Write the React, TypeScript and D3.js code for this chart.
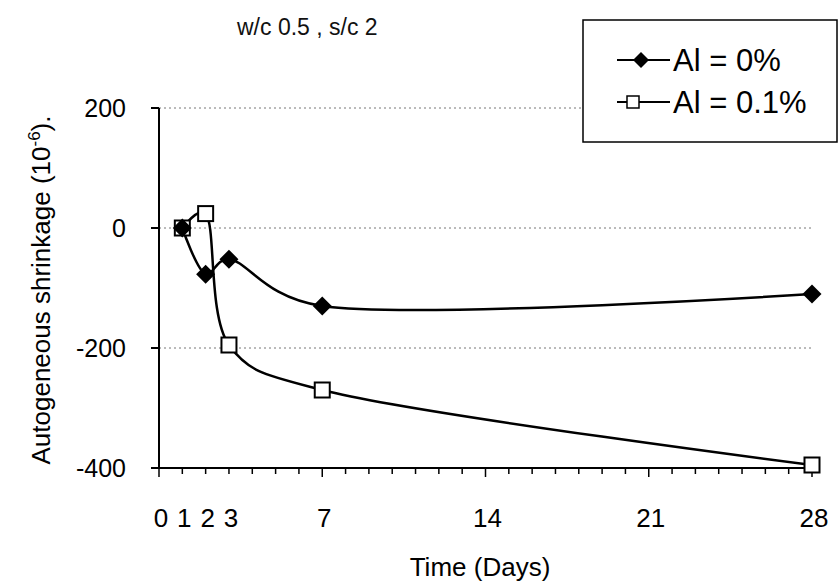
import React from "react";
import * as d3 from "d3";

const days = [1, 2, 3, 7, 28];
const al0 = [0, -77, -52, -130, -110];
const al01 = [0, 24, -195, -270, -395];
const seriesNames = ["Al = 0%", "Al = 0.1%"];
const xTickLabels = [0, 1, 2, 3, 7, 14, 21, 28];
const yTicks = [200, 0, -200, -400];
const gridLines = [200, 0, -200];

const W = 840;
const H = 584;

export default function App() {
  const x = d3.scaleLinear().domain([0, 28]).range([159, 812]);
  const y = d3.scaleLinear().domain([-400, 200]).range([468, 108]);
  const line = d3
    .line<[number, number]>()
    .x((d) => x(d[0]))
    .y((d) => y(d[1]))
    .curve(d3.curveCatmullRom.alpha(0.3));
  const pts0: [number, number][] = days.map((d, i) => [d, al0[i]]);
  const pts1: [number, number][] = days.map((d, i) => [d, al01[i]]);
  const dayTicks = d3.range(0, 29);
  const font = "Liberation Sans, Arial, sans-serif";
  const diamond = (cx: number, cy: number, r: number) =>
    `M${cx},${cy - r}L${cx + r},${cy}L${cx},${cy + r}L${cx - r},${cy}Z`;

  return (
    <svg
      width={W}
      height={H}
      style={{ position: "absolute", left: 0, top: 0, background: "#fff" }}
      fontFamily={font}
    >
      <rect width={W} height={H} fill="#fff" />
      {/* title */}
      <text x={237} y={35} fontSize={23} textAnchor="start" fill="#111">
        w/c 0.5 , s/c 2
      </text>
      {/* grid */}
      {gridLines.map((g) => (
        <line
          key={g}
          x1={x(0)}
          x2={x(28)}
          y1={y(g)}
          y2={y(g)}
          stroke="#777"
          strokeWidth={1}
          strokeDasharray="2,3"
        />
      ))}
      {/* axes */}
      <line x1={x(0)} x2={x(0)} y1={y(200)} y2={y(-400)} stroke="#000" strokeWidth={2} />
      <line x1={x(0)} x2={x(28)} y1={y(-400)} y2={y(-400)} stroke="#000" strokeWidth={2} />
      {yTicks.map((t) => (
        <g key={t}>
          <line x1={x(0) - 8} x2={x(0)} y1={y(t)} y2={y(t)} stroke="#000" strokeWidth={2} />
          <text
            x={126}
            y={y(t) + 9}
            fontSize={25}
            textAnchor="end"
            fill="#000"
          >
            {t}
          </text>
        </g>
      ))}
      {dayTicks.map((t) => (
        <line
          key={t}
          x1={x(t)}
          x2={x(t)}
          y1={y(-400)}
          y2={y(-400) + (t % 7 === 0 ? 9 : 6)}
          stroke="#000"
          strokeWidth={1.5}
        />
      ))}
      {xTickLabels.map((t) => (
        <text key={t} x={x(t) + 2} y={527} fontSize={26} textAnchor="middle" fill="#000">
          {t}
        </text>
      ))}
      <text x={480} y={576} fontSize={26} textAnchor="middle" fill="#000">
        Time (Days)
      </text>
      <text
        transform={`translate(50,290) rotate(-90)`}
        fontSize={26}
        textAnchor="middle"
        fill="#000"
      >
        Autogeneous shrinkage (10
        <tspan dy={-10} fontSize={17}>-6</tspan>
        <tspan dy={10}>).</tspan>
      </text>
      {/* series lines */}
      <path d={line(pts1) || ""} fill="none" stroke="#000" strokeWidth={2.5} />
      <path d={line(pts0) || ""} fill="none" stroke="#000" strokeWidth={2.5} />
      {pts1.map((p, i) => (
        <rect
          key={"s" + i}
          x={x(p[0]) - 7.5}
          y={y(p[1]) - 7.5}
          width={15}
          height={15}
          fill="#fff"
          stroke="#000"
          strokeWidth={2}
        />
      ))}
      {pts0.map((p, i) => (
        <path key={"d" + i} d={diamond(x(p[0]), y(p[1]), 9.5)} fill="#000" />
      ))}
      {/* legend */}
      <rect x={583} y={20} width={254} height={122} fill="#fff" stroke="#000" strokeWidth={1.5} />
      <line x1={617} x2={670} y1={60} y2={60} stroke="#000" strokeWidth={2} />
      <path d={diamond(641, 60, 8)} fill="#000" />
      <text x={673} y={71} fontSize={31} fill="#000">
        {seriesNames[0]}
      </text>
      <line x1={617} x2={670} y1={102} y2={102} stroke="#000" strokeWidth={2} />
      <rect x={627} y={96} width={12} height={12} fill="#fff" stroke="#000" strokeWidth={1.5} />
      <text x={673} y={113} fontSize={31} fill="#000">
        {seriesNames[1]}
      </text>
    </svg>
  );
}
